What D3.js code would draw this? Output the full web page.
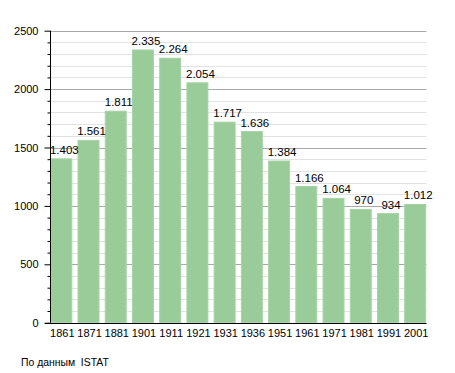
<!DOCTYPE html>
<html>
<head>
<meta charset="utf-8">
<script src="https://cdn.jsdelivr.net/npm/d3@7"></script>
<style>
  body { margin: 0; background: #fff; }
  text { font-family: "Liberation Sans", Arial, sans-serif; }
</style>
</head>
<body>
<svg id="chart" width="455" height="373"></svg>
<script>
const years = ['1861', '1871', '1881', '1901', '1911', '1921', '1931', '1936', '1951', '1961', '1971', '1981', '1991', '2001'];
const population = [1403, 1561, 1811, 2335, 2264, 2054, 1717, 1636, 1384, 1166, 1064, 970, 934, 1012];
const yTicks = [0, 500, 1000, 1500, 2000, 2500];
const source = 'По данным  ISTAT';

const svg = d3.select('#chart');
const plotLeft = 50, plotRight = 426.5, plotTop = 30.7, plotBottom = 322.7;

const x = d3.scaleBand()
  .domain(years)
  .range([plotLeft, plotRight])
  .paddingInner(0.23)
  .paddingOuter(0.03);

const y = d3.scaleLinear()
  .domain([0, 2500])
  .range([plotBottom, plotTop]);

const minorTicks = d3.range(0, 2501, 100).filter(v => v % 500 !== 0);

// minor grid
svg.append('g')
  .selectAll('line')
  .data(minorTicks)
  .enter()
  .append('line')
  .attr('x1', plotLeft).attr('x2', plotRight)
  .attr('y1', d => Math.round(y(d)) + 0.5).attr('y2', d => Math.round(y(d)) + 0.5)
  .attr('stroke', '#e2e2e2');

// major grid
svg.append('g')
  .selectAll('line')
  .data(yTicks.slice(1))
  .enter()
  .append('line')
  .attr('x1', plotLeft).attr('x2', plotRight)
  .attr('y1', d => Math.round(y(d)) + 0.5).attr('y2', d => Math.round(y(d)) + 0.5)
  .attr('stroke', '#a8a8a8');

// bars
svg.append('g')
  .selectAll('rect')
  .data(population)
  .enter()
  .append('rect')
  .attr('x', (d, i) => x(years[i]))
  .attr('y', d => y(d))
  .attr('width', x.bandwidth())
  .attr('height', d => plotBottom - y(d))
  .attr('fill', '#99cc99')
  .attr('stroke', '#a6d3a6')
  .attr('stroke-width', 1);

// value labels
svg.append('g')
  .selectAll('text')
  .data(population)
  .enter()
  .append('text')
  .attr('x', (d, i) => x(years[i]) + x.bandwidth() / 2 + 3)
  .attr('y', d => y(d) - 5)
  .attr('text-anchor', 'middle')
  .style('font-size', '11.5px')
  .attr('fill', '#000')
  .text(d => d3.format(',')(d).replace(',', '.'));

// y axis with minor ticks
const yAxis = d3.axisLeft(y)
  .tickValues(yTicks)
  .tickFormat(d3.format('d'))
  .tickSize(6)
  .tickPadding(6);

const gy = svg.append('g')
  .attr('transform', 'translate(' + (plotLeft + 0.5) + ',0)')
  .call(yAxis);
gy.select('.domain').remove();
gy.selectAll('text').style('font-size', '11px').attr('fill', '#000');
gy.selectAll('line').attr('stroke', '#000');

svg.append('g')
  .attr('transform', 'translate(' + (plotLeft + 0.5) + ',0)')
  .call(d3.axisLeft(y).tickValues(minorTicks).tickSize(3).tickFormat(''))
  .call(g => g.select('.domain').remove())
  .selectAll('line').attr('stroke', '#000');

svg.append('line')
  .attr('x1', plotLeft + 0.5).attr('x2', plotLeft + 0.5)
  .attr('y1', plotTop).attr('y2', plotBottom)
  .attr('stroke', '#000');

// x axis
const gx = svg.append('g')
  .attr('transform', 'translate(0,' + (Math.round(plotBottom) + 0.5) + ')')
  .call(d3.axisBottom(x).tickSize(0).tickPadding(6));
gx.select('.domain').remove();
gx.selectAll('text')
  .style('font-size', '11px')
  .attr('fill', '#000')
  .attr('dx', '1');

svg.append('line')
  .attr('x1', 45).attr('x2', plotRight)
  .attr('y1', Math.round(plotBottom) + 0.5).attr('y2', Math.round(plotBottom) + 0.5)
  .attr('stroke', '#000');

svg.append('text')
  .attr('x', 21)
  .attr('y', 366)
  .style('font-size', '10.4px')
  .style('white-space', 'pre')
  .attr('fill', '#000')
  .text(source);
</script>
</body>
</html>
